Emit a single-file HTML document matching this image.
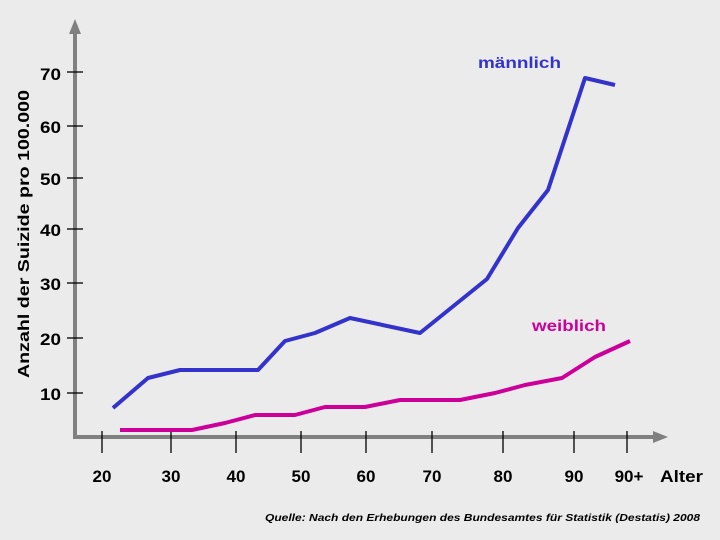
<!DOCTYPE html>
<html><head><meta charset="utf-8"><style>
body{margin:0;background:#ebebeb}
svg{display:block}
text{font-family:"Liberation Sans",sans-serif;font-weight:bold}
</style></head><body>
<svg width="720" height="540" viewBox="0 0 720 540">
<rect width="720" height="540" fill="#ebebeb"/>
<g stroke="#808080" stroke-width="4" fill="none">
<line x1="75" y1="32" x2="75" y2="439"/>
<line x1="73" y1="437" x2="655" y2="437"/>
</g>
<polygon points="75,19 69,34 81,34" fill="#808080"/>
<polygon points="668,437 653,431 653,443" fill="#808080"/>
<g stroke="#000" stroke-width="1.3">
<line x1="67" y1="72" x2="83" y2="72"/>
<line x1="67" y1="126" x2="83" y2="126"/>
<line x1="67" y1="178" x2="83" y2="178"/>
<line x1="67" y1="229" x2="83" y2="229"/>
<line x1="67" y1="283" x2="83" y2="283"/>
<line x1="67" y1="338" x2="83" y2="338"/>
<line x1="67" y1="393" x2="83" y2="393"/>
<line x1="102" y1="431" x2="102" y2="453"/>
<line x1="171" y1="431" x2="171" y2="453"/>
<line x1="236" y1="431" x2="236" y2="453"/>
<line x1="301" y1="431" x2="301" y2="453"/>
<line x1="366" y1="431" x2="366" y2="453"/>
<line x1="432" y1="431" x2="432" y2="453"/>
<line x1="503" y1="431" x2="503" y2="453"/>
<line x1="574" y1="431" x2="574" y2="453"/>
<line x1="627" y1="431" x2="627" y2="453"/>
</g>
<g font-size="17" text-anchor="end" fill="#000" lengthAdjust="spacingAndGlyphs">
<text x="61" y="80" textLength="21" lengthAdjust="spacingAndGlyphs">70</text><text x="61" y="133" textLength="21" lengthAdjust="spacingAndGlyphs">60</text><text x="61" y="185" textLength="21" lengthAdjust="spacingAndGlyphs">50</text>
<text x="61" y="236" textLength="21" lengthAdjust="spacingAndGlyphs">40</text><text x="61" y="290" textLength="21" lengthAdjust="spacingAndGlyphs">30</text><text x="61" y="345" textLength="21" lengthAdjust="spacingAndGlyphs">20</text><text x="61" y="400" textLength="21" lengthAdjust="spacingAndGlyphs">10</text>
</g>
<g font-size="17" text-anchor="middle" fill="#000">
<text x="102" y="482">20</text><text x="171" y="482">30</text><text x="236" y="482">40</text>
<text x="301" y="482">50</text><text x="366" y="482">60</text><text x="432" y="482">70</text>
<text x="503" y="482">80</text><text x="574" y="482">90</text><text x="629" y="482">90+</text>
</g>
<text x="660" y="482" font-size="17" textLength="43" lengthAdjust="spacingAndGlyphs">Alter</text>
<text transform="translate(29,378) rotate(-90)" font-size="16" textLength="288" lengthAdjust="spacingAndGlyphs">Anzahl der Suizide pro 100.000</text>
<text x="478" y="68" font-size="16" fill="#3333cc" textLength="83" lengthAdjust="spacingAndGlyphs">männlich</text>
<text x="532" y="331" font-size="16" fill="#cc0099" textLength="74" lengthAdjust="spacingAndGlyphs">weiblich</text>
<text x="265" y="521" font-size="10.5" font-style="italic" textLength="435" lengthAdjust="spacingAndGlyphs">Quelle: Nach den Erhebungen des Bundesamtes für Statistik (Destatis) 2008</text>
<polyline fill="none" stroke="#3333cc" stroke-width="4" stroke-linejoin="round" points="113,408 148,378 180,370 258,370 285,341 315,333 350,318 420,333 487,279 518,228 548,190 585,78 615,85"/>
<polyline fill="none" stroke="#cc0099" stroke-width="4" stroke-linejoin="round" points="120,430 192,430 225,423 255,415 295,415 325,407 365,407 400,400 460,400 495,393 525,385 562,378 595,357 630,341"/>
</svg>
</body></html>
